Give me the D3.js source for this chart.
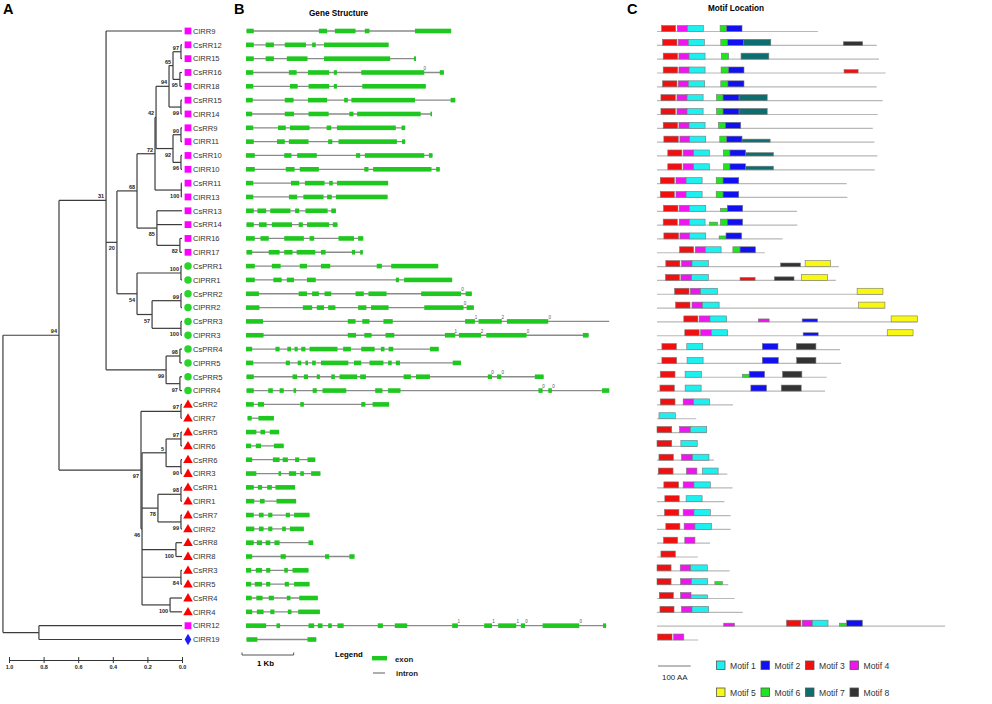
<!DOCTYPE html>
<html>
<head>
<meta charset="utf-8">
<script src="https://cdn.jsdelivr.net/npm/d3@7"></script>
<style>
  body { margin: 0; background: #fff; }
  text { font-family: Arial, "Liberation Sans", sans-serif; }
</style>
</head>
<body>
<svg id="fig" width="992" height="704"></svg>
<script>
// tree: label after ")" = bootstrap, value after ":" = node depth (distance to tips)
const treeNewick =
  "(((ClRR9," +
    "(((((((CsRR12,ClRR15)97:0.006,(CsRR16,ClRR18)95:0.012)65:0.052,(CsRR15,ClRR14)99:0.006)94:0.075," +
    "((CsRR9,ClRR11)90:0.006,(CsRR10,ClRR10)96:0.006)92:0.052)42:0.150,(CsRR11,ClRR13)100:0.004)72:0.156," +
    "(CsRR13,CsRR14,(ClRR16,ClRR17)82:0.012)85:0.145)68:0.26," +
    "((CsPRR1,ClPRR1)100:0.006,((CsPRR2,ClPRR2)99:0.006,(CsPRR3,ClPRR3)100:0.006)57:0.173)54:0.26)20:0.376," +
    "((CsPRR4,ClPRR5)98:0.012,(CsPRR5,ClPRR4)97:0.012)99:0.092)31:0.439," +
  "((CsRR2,ClRR7)97:0.006," +
    "(((CsRR5,ClRR6)97:0.006,(CsRR6,ClRR3)90:0.006)5:0.092," +
    "((CsRR1,ClRR1)98:0.006,(CsRR7,ClRR2)99:0.006)78:0.139," +
    "(CsRR8,ClRR8)100:0.035,(CsRR3,ClRR5)84:0.006,(CsRR4,ClRR4)100:0.069)46:0.231)97:0.237)94:0.711," +
  "(ClRR12,ClRR19):0.827):1.035";

const typeBGenes = ["ClRR9","CsRR12","ClRR15","CsRR16","ClRR18","CsRR15","ClRR14","CsRR9","ClRR11",
  "CsRR10","ClRR10","CsRR11","ClRR13","CsRR13","CsRR14","ClRR16","ClRR17","ClRR12"];
const prrGenes = ["CsPRR1","ClPRR1","CsPRR2","ClPRR2","CsPRR3","ClPRR3","CsPRR4","ClPRR5","CsPRR5","ClPRR4"];
const typeAGenes = ["CsRR2","ClRR7","CsRR5","ClRR6","CsRR6","ClRR3","CsRR1","ClRR1","CsRR7","ClRR2",
  "CsRR8","ClRR8","CsRR3","ClRR5","CsRR4","ClRR4"];
const otherGenes = ["ClRR19"];

const treeTicks = [1.0, 0.8, 0.6, 0.4, 0.2, 0.0];

// exon positions in kb, same order as the tree leaves
const exonKb = [
  [[0.01,0.15],[1.41,1.57],[1.72,2.12],[2.30,2.39],[3.27,3.97]],
  [[0,0.15],[0.38,0.54],[0.75,1.16],[1.28,1.35],[1.51,2.76]],
  [[0,0.15],[0.38,0.54],[0.79,1.19],[1.51,2.79],[3.25,3.29]],
  [[0,0.14],[0.83,0.98],[1.20,1.61],[1.70,1.76],[2.23,3.45],[3.75,3.83]],
  [[0,0.14],[0.85,1.0],[1.21,1.61],[1.70,1.76],[2.25,3.48]],
  [[0,0.13],[0.75,0.92],[1.2,1.57],[1.9,1.97],[2.04,3.27],[3.96,4.05]],
  [[0,0.12],[0.75,0.93],[1.21,1.6],[2.0,2.08],[2.15,3.38],[3.57,3.6]],
  [[0,0.14],[0.62,0.77],[0.85,1.23],[1.56,1.65],[1.76,2.9],[3.01,3.08]],
  [[0,0.15],[0.6,0.75],[0.83,1.21],[1.59,1.67],[1.79,2.92],[3.02,3.08]],
  [[0,0.17],[0.74,0.88],[0.99,1.37],[2.13,2.21],[2.3,3.45],[3.54,3.61]],
  [[0,0.17],[0.77,0.94],[1.04,1.41],[2.29,2.37],[2.46,3.59],[3.68,3.75]],
  [[0,0.14],[0.87,1.03],[1.14,1.52],[1.61,1.68],[1.76,2.75]],
  [[0,0.14],[0.83,0.99],[1.11,1.5],[1.57,1.66],[1.74,2.74]],
  [[0,0.15],[0.22,0.39],[0.47,0.86],[0.95,1.03],[1.15,1.58],[1.65,1.74]],
  [[0.01,0.15],[0.25,0.4],[0.5,0.89],[1.02,1.1],[1.18,1.61],[1.68,1.77]],
  [[0,0.17],[0.28,0.44],[0.74,1.12],[1.23,1.32],[1.79,2.09],[2.17,2.27]],
  [[0.01,0.12],[0.44,0.65],[0.74,0.9],[0.98,1.34],[1.45,1.54],[2.05,2.11],[2.21,2.26]],
  [[0,0.17],[0.5,0.67],[1.04,1.18],[1.45,1.63],[2.53,2.63],[2.81,3.72]],
  [[0,0.17],[0.53,0.69],[0.79,0.93],[1.18,1.35],[2.9,2.96],[3.06,3.99]],
  [[0,0.25],[1.02,1.18],[1.28,1.41],[1.52,1.65],[2.12,2.28],[2.37,2.72],[3.39,4.16],[4.25,4.37]],
  [[0,0.26],[1.1,1.28],[1.37,1.51],[1.59,1.73],[2.17,2.33],[2.42,2.76],[3.45,4.21],[4.27,4.41]],
  [[0,0.33],[1.97,2.12],[2.25,2.39],[2.66,2.84],[4.24,4.43],[4.5,4.95],[5.05,5.85]],
  [[0,0.34],[1.97,2.13],[2.29,2.43],[2.7,2.87],[3.85,4.05],[4.12,4.55],[4.65,5.43],[6.52,6.63]],
  [[0,0.12],[0.57,0.65],[0.8,0.87],[0.94,1.0],[1.07,1.15],[1.23,1.77],[1.88,2.03],[2.23,2.49],[2.61,2.68],[2.76,2.85],[3.56,3.73]],
  [[0,0.14],[0.77,0.85],[1.0,1.07],[1.15,1.2],[1.28,1.35],[1.45,1.98],[2.09,2.23],[2.39,2.66],[2.75,2.82],[2.9,2.98],[4.0,4.16]],
  [[0.01,0.15],[0.9,0.99],[1.12,1.2],[1.37,1.43],[1.65,1.72],[1.81,2.15],[2.21,2.32],[3.05,3.19],[3.29,3.56],[4.68,4.76],[4.86,4.94],[5.59,5.76]],
  [[0.01,0.15],[0.43,0.52],[0.65,0.73],[0.92,0.97],[1.29,1.37],[1.48,1.94],[2.5,2.64],[2.75,2.99],[5.66,5.74],[5.85,5.92],[6.89,7.03]],
  [[0,0.15],[0.23,0.35],[1.05,1.12],[2.23,2.31],[2.45,2.77]],
  [[0.03,0.11],[0.24,0.54]],
  [[0,0.2],[0.28,0.37],[0.46,0.64]],
  [[0,0.1],[0.19,0.29],[0.54,0.73]],
  [[0,0.12],[0.52,0.65],[0.71,0.81],[0.95,1.03],[1.19,1.34]],
  [[0,0.2],[0.63,0.68],[0.83,0.97],[1.05,1.12],[1.26,1.44]],
  [[0,0.15],[0.23,0.31],[0.41,0.5],[0.57,0.95]],
  [[0,0.16],[0.27,0.36],[0.59,0.97]],
  [[0,0.15],[0.25,0.34],[0.43,0.51],[0.77,0.85],[0.93,1.23]],
  [[0,0.16],[0.25,0.34],[0.43,0.51],[0.7,0.77],[0.85,1.12]],
  [[0,0.15],[0.21,0.31],[0.38,0.47],[0.55,0.65],[1.21,1.3]],
  [[0,0.12],[0.67,0.77],[1.53,1.61],[2.0,2.1]],
  [[0,0.1],[0.19,0.31],[0.39,0.47],[0.74,0.81],[0.9,1.21]],
  [[0,0.1],[0.17,0.31],[0.39,0.47],[0.75,0.83],[0.93,1.23]],
  [[0,0.11],[0.2,0.32],[0.44,0.54],[0.79,0.86],[1.03,1.39]],
  [[0,0.12],[0.21,0.34],[0.47,0.55],[0.81,0.88],[1.01,1.43]],
  [[0,0.39],[0.59,0.66],[1.21,1.32],[1.39,1.48],[1.59,1.66],[1.77,1.89],[2.55,2.65],[2.88,3.12],[3.99,4.1],[4.61,4.76],[4.88,5.23],[5.32,5.4],[5.74,6.45],[6.91,6.97]],
  [[0.01,0.22],[1.19,1.36]]
];
// genes whose intron runs on past the last exon
const geneEndKb = { CsPRR3: 7.03 };
// intron phase marks: [gene, kb, phase]
const phaseMarks = [
  ["CsRR16",3.46,"0"],["CsPRR2",4.19,"0"],["ClPRR2",4.24,"0"],
  ["CsPRR3",4.45,"1"],["CsPRR3",4.97,"2"],["CsPRR3",5.88,"0"],
  ["ClPRR3",4.06,"1"],["ClPRR3",4.57,"2"],["ClPRR3",5.46,"0"],
  ["CsPRR5",4.77,"0"],["CsPRR5",4.97,"0"],["ClPRR4",5.76,"0"],["ClPRR4",5.95,"0"],
  ["ClRR12",4.12,"1"],["ClRR12",4.79,"1"],["ClRR12",5.26,"1"],["ClRR12",5.43,"0"],["ClRR12",6.48,"0"]
];

// protein length (aa), same order as the tree leaves
const proteinLen = [492,672,679,699,672,690,675,660,665,674,666,580,582,428,429,384,330,
  556,547,691,697,796,783,560,563,519,514,
  232,120,152,123,174,215,231,206,225,225,162,125,222,218,237,262,881,126];
// motif hits: [motif, start aa, end aa, relative score]
const motifHits = [
  [[3,14,57,1],[4,62,93,1],[1,93,142,1],[6,193,213,1],[2,213,260,1]],
  [[3,17,61,1],[4,65,96,1],[1,96,145,1],[6,195,216,1],[2,216,264,1],[7,264,348,1],[8,570,629,0.6]],
  [[3,19,63,1],[4,67,98,1],[1,98,147,1],[6,197,219,1],[7,257,342,1]],
  [[3,19,63,1],[4,67,98,1],[1,98,147,1],[6,196,219,1],[2,219,266,1],[3,572,615,0.55]],
  [[3,17,61,1],[4,65,96,1],[1,96,146,1],[6,195,217,1],[2,217,266,1]],
  [[3,12,56,1],[4,61,92,1],[1,92,141,1],[6,182,202,1],[2,202,251,1],[7,251,337,1]],
  [[3,12,56,1],[4,61,92,1],[1,92,141,1],[6,182,202,1],[2,202,251,1],[7,251,337,1]],
  [[3,19,63,1],[4,67,98,1],[1,98,147,1],[6,188,209,1],[2,209,256,1]],
  [[3,21,65,1],[4,70,100,1],[1,100,149,1],[6,192,213,1],[2,213,260,1],[7,260,346,0.5]],
  [[3,33,76,1],[4,80,112,1],[1,112,160,1],[6,203,223,1],[2,223,271,1],[7,271,356,0.55]],
  [[3,33,76,1],[4,80,112,1],[1,112,160,1],[6,203,223,1],[2,223,271,1],[7,271,356,0.6]],
  [[3,10,53,1],[4,58,89,1],[1,89,138,1],[6,181,202,1],[2,202,250,1]],
  [[3,10,53,1],[4,58,89,1],[1,89,138,1],[6,181,202,1],[2,202,250,1]],
  [[3,20,64,1],[4,68,99,1],[1,99,149,1],[6,194,215,0.5],[2,215,262,1]],
  [[3,19,62,1],[4,68,99,1],[1,99,147,1],[6,161,185,0.5],[6,194,215,1],[2,215,262,1]],
  [[3,21,66,1],[4,70,100,1],[1,100,149,1],[6,190,211,0.5],[2,211,259,1]],
  [[3,69,112,1],[4,117,148,1],[1,148,196,1],[6,232,254,1],[2,254,301,1]],
  [[3,27,70,1],[4,75,107,1],[1,107,157,1],[8,378,439,0.6],[5,453,531,1]],
  [[3,26,69,1],[4,73,106,1],[1,106,157,1],[3,254,300,0.5],[8,359,419,0.6],[5,442,522,1]],
  [[3,54,98,1],[4,102,133,1],[1,133,185,1],[5,612,691,1]],
  [[3,57,101,1],[4,107,139,1],[1,139,190,1],[5,616,697,1]],
  [[3,82,125,1],[4,129,162,1],[1,162,213,1],[4,310,343,0.5],[2,444,491,0.5],[5,716,796,1]],
  [[3,85,129,1],[4,133,166,1],[1,166,216,1],[2,447,493,0.5],[5,704,783,1]],
  [[3,15,59,1],[1,91,140,1],[2,322,370,1],[8,426,486,1]],
  [[3,15,60,1],[1,92,141,1],[2,322,371,1],[8,427,486,1]],
  [[3,10,55,1],[1,86,136,1],[6,261,282,0.5],[2,282,329,1],[8,384,443,1]],
  [[3,9,53,1],[1,86,135,1],[2,287,335,1],[8,380,441,1]],
  [[3,10,55,1],[4,80,112,1],[1,112,161,1]],
  [[1,6,56,1]],
  [[3,0,45,1],[4,69,102,1],[1,102,152,1]],
  [[3,0,45,1],[1,73,123,1]],
  [[3,6,50,1],[4,75,108,1],[1,108,159,1]],
  [[3,4,49,1],[4,90,122,1],[1,139,187,1]],
  [[3,21,66,1],[4,80,113,1],[1,113,163,1]],
  [[3,24,68,1],[1,89,138,1]],
  [[3,23,67,1],[4,80,113,1],[1,113,163,1]],
  [[3,27,70,1],[4,83,116,1],[1,116,167,1]],
  [[3,20,63,1],[4,85,116,1]],
  [[3,12,56,1]],
  [[3,0,43,1],[4,71,103,1],[1,103,154,1]],
  [[3,0,43,1],[4,72,105,1],[1,105,155,1],[6,177,200,0.5]],
  [[3,7,50,1],[4,72,104,1],[1,104,155,0.6]],
  [[3,9,52,1],[4,75,107,1],[1,107,158,1]],
  [[4,204,237,0.5],[3,396,440,1],[4,444,475,1],[1,475,523,1],[6,558,580,0.5],[2,580,628,1]],
  [[3,2,46,1],[4,51,82,1]]
];
const motifIds = [1, 2, 3, 4, 5, 6, 7, 8];

function parseNewick(s) {
  let i = 0;
  function node() {
    const n = { children: [] };
    if (s[i] === "(") {
      i++;
      n.children.push(node());
      while (s[i] === ",") { i++; n.children.push(node()); }
      i++;
    }
    let name = "";
    while (i < s.length && !",():".includes(s[i])) name += s[i++];
    let dep = "";
    if (s[i] === ":") { i++; while (i < s.length && !",()".includes(s[i])) dep += s[i++]; }
    if (n.children.length) { n.boot = name; n.depth = +dep; }
    else { n.name = name; n.depth = 0; }
    return n;
  }
  return node();
}

const svg = d3.select("#fig");

/* ---------- A: tree ---------- */
const xTree = d3.scaleLinear().domain([1, 0]).range([9, 182]);
const root = d3.hierarchy(parseNewick(treeNewick), d => d.children.length ? d.children : null);
const geneNames = root.leaves().map(d => d.data.name);
const yRow = d3.scalePoint().domain(geneNames).range([31, 639.5]);

root.eachAfter(d => {
  d.px = xTree(d.data.depth);
  d.py = d.children ? (d.children[0].py + d.children[d.children.length - 1].py) / 2 : yRow(d.data.name);
});

const gTree = svg.append("g").attr("fill", "none").attr("stroke", "#3c3c3c").attr("stroke-width", 1.2);
gTree.selectAll("path.hz").data(root.descendants().filter(d => d.parent)).join("path")
  .attr("class", "hz")
  .attr("d", d => `M${d.parent.px},${d.py}H${d.px}`);
gTree.selectAll("path.vt").data(root.descendants().filter(d => d.children)).join("path")
  .attr("class", "vt")
  .attr("d", d => `M${d.px},${d.children[0].py}V${d.children[d.children.length - 1].py}`);

svg.append("g").selectAll("text").data(root.descendants().filter(d => d.data.boot)).join("text")
  .attr("x", d => d.px - 2)
  .attr("y", d => d.parent.children[0] === d ? d.py - 2 : d.py + 8)
  .attr("text-anchor", "end").attr("font-size", 5.5).attr("font-weight", "bold").attr("fill", "#222")
  .text(d => d.data.boot);

function markerOf(name) {
  if (typeBGenes.includes(name)) return { sym: d3.symbolSquare, size: 46, fill: "#ff00ff" };
  if (prrGenes.includes(name)) return { sym: d3.symbolCircle, size: 44, fill: "#2ad42a" };
  if (typeAGenes.includes(name)) return { sym: d3.symbolTriangle, size: 40, fill: "#ff0000" };
  return { sym: d3.symbolDiamond, size: 38, fill: "#1a1aff" };
}
const gLeaf = svg.append("g");
gLeaf.selectAll("path").data(geneNames).join("path")
  .attr("transform", d => `translate(188,${yRow(d) + (typeAGenes.includes(d) ? 0.6 : 0)})`)
  .attr("d", d => d3.symbol().type(markerOf(d).sym).size(markerOf(d).size)())
  .attr("fill", d => markerOf(d).fill);
gLeaf.selectAll("text").data(geneNames).join("text")
  .attr("x", 193).attr("y", d => yRow(d) + 2.8)
  .attr("font-size", 7.6).attr("fill", "#333").text(d => d);

const axisTree = svg.append("g").attr("transform", "translate(0,660)")
  .call(d3.axisBottom(xTree).tickValues(treeTicks).tickFormat(d3.format(".1f")).tickSize(3).tickPadding(2));
axisTree.select(".domain").attr("stroke", "#333");
axisTree.selectAll(".tick line").attr("y1", -3).attr("stroke", "#333");
axisTree.selectAll(".tick text").attr("font-size", 5.5).attr("font-weight", "bold").attr("fill", "#222")
  .attr("font-family", "Arial, sans-serif");

/* ---------- B: gene structure ---------- */
const xKb = d3.scaleLinear().domain([0, 1]).range([246, 297.67]);
const gGene = svg.append("g");
geneNames.forEach((g, i) => {
  const ex = exonKb[i];
  const end = geneEndKb[g] || ex[ex.length - 1][1];
  const y = yRow(g);
  gGene.append("line").attr("x1", xKb(ex[0][0])).attr("x2", xKb(end))
    .attr("y1", y).attr("y2", y).attr("stroke", "#8a8a8a").attr("stroke-width", 1.3);
  gGene.selectAll(null).data(ex).join("rect")
    .attr("x", d => xKb(d[0])).attr("width", d => Math.max(1.5, xKb(d[1]) - xKb(d[0])))
    .attr("y", y - 2.3).attr("height", 4.6).attr("fill", "#1ec81e");
});
gGene.selectAll("text.ph").data(phaseMarks).join("text")
  .attr("class", "ph")
  .attr("x", d => xKb(d[1])).attr("y", d => yRow(d[0]) - 2.5)
  .attr("font-size", 4.5).attr("fill", "#555").attr("text-anchor", "middle").text(d => d[2]);

// 1 kb scale bar and legend
const gKb = svg.append("g").attr("stroke", "#555").attr("stroke-width", 1);
gKb.append("line").attr("x1", xKb(0) - 4).attr("x2", xKb(1) - 4).attr("y1", 655).attr("y2", 655);
gKb.append("line").attr("x1", xKb(0) - 4).attr("x2", xKb(0) - 4).attr("y1", 652.5).attr("y2", 655);
gKb.append("line").attr("x1", xKb(1) - 4).attr("x2", xKb(1) - 4).attr("y1", 652.5).attr("y2", 655);
svg.append("text").attr("x", 257).attr("y", 666).attr("font-size", 7.8).attr("font-weight", "bold").text("1 Kb");
svg.append("text").attr("x", 335).attr("y", 656.5).attr("font-size", 7.8).attr("font-weight", "bold").text("Legend");
svg.append("rect").attr("x", 372).attr("y", 656).attr("width", 15).attr("height", 4.4).attr("fill", "#1ec81e");
svg.append("text").attr("x", 395).attr("y", 661.5).attr("font-size", 7.8).attr("font-weight", "bold").attr("fill", "#222").text("exon");
svg.append("line").attr("x1", 373).attr("x2", 385).attr("y1", 673).attr("y2", 673).attr("stroke", "#777").attr("stroke-width", 1.2);
svg.append("text").attr("x", 396).attr("y", 675.5).attr("font-size", 7.8).attr("font-weight", "bold").attr("fill", "#222").text("intron");

/* ---------- C: motif location ---------- */
const xAA = d3.scaleLinear().domain([0, 100]).range([657, 689.7]);
const motifColor = d3.scaleOrdinal().domain(motifIds)
  .range(["#1ef0f0", "#1010f0", "#f01010", "#f014f0", "#f8f812", "#1ee61e", "#0c6e6e", "#333333"]);
const boxH = d3.scaleLinear().domain([0, 1]).range([0, 6]);
const gMotif = svg.append("g");
geneNames.forEach((g, i) => {
  const y = yRow(g) + 0.5;
  gMotif.append("line").attr("x1", xAA(0)).attr("x2", xAA(proteinLen[i]))
    .attr("y1", y).attr("y2", y).attr("stroke", "#b8b8b8").attr("stroke-width", 1.2);
  gMotif.selectAll(null).data(motifHits[i]).join("rect")
    .attr("x", d => xAA(d[1])).attr("width", d => xAA(d[2]) - xAA(d[1]))
    .attr("y", d => y - boxH(d[3])).attr("height", d => boxH(d[3]))
    .attr("fill", d => motifColor(d[0])).attr("stroke", "#777").attr("stroke-width", 0.6);
});

// 100 AA bar and motif legend
svg.append("line").attr("x1", xAA(0) + 1).attr("x2", xAA(100) + 1).attr("y1", 666).attr("y2", 666)
  .attr("stroke", "#777").attr("stroke-width", 1);
svg.append("text").attr("x", 662).attr("y", 680).attr("font-size", 7.9).attr("fill", "#222").text("100 AA");
const gLeg = svg.append("g");
const legCol = d3.scalePoint().domain([0, 1, 2, 3]).range([716.5, 850]);
motifIds.forEach((m, k) => {
  const x = legCol(k % 4);
  const y = k < 4 ? 661 : 688;
  gLeg.append("rect").attr("x", x).attr("y", y).attr("width", 8.5).attr("height", 8.5)
    .attr("fill", motifColor(m)).attr("stroke", "#555").attr("stroke-width", 0.8);
  gLeg.append("text").attr("x", x + 13.5).attr("y", y + 7.5).attr("font-size", 8.6).attr("fill", "#333")
    .text("Motif " + m);
});

/* ---------- panel headings ---------- */
svg.append("text").attr("x", 3).attr("y", 13.5).attr("font-size", 14.5).attr("font-weight", "bold").text("A");
svg.append("text").attr("x", 234).attr("y", 13.5).attr("font-size", 14.5).attr("font-weight", "bold").text("B");
svg.append("text").attr("x", 627).attr("y", 13.5).attr("font-size", 14.5).attr("font-weight", "bold").text("C");
svg.append("text").attr("x", 309).attr("y", 15.5).attr("font-size", 8.2).attr("font-weight", "bold").text("Gene Structure");
svg.append("text").attr("x", 708).attr("y", 11).attr("font-size", 8.2).attr("font-weight", "bold").text("Motif Location");
</script>
</body>
</html>
